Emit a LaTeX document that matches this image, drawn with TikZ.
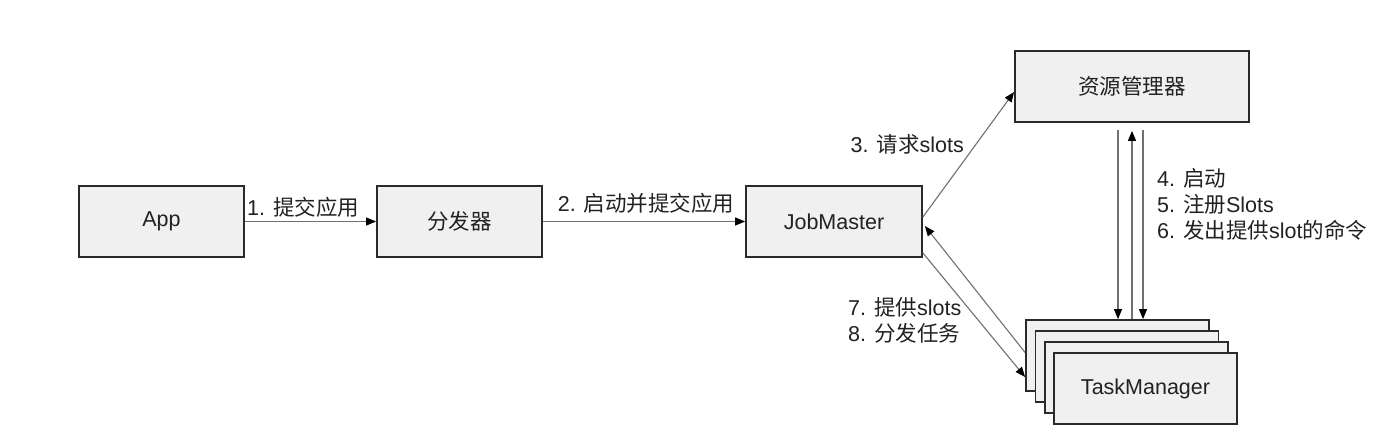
\documentclass[tikz,border=0pt]{standalone}
\usepackage{fontspec}
\setmainfont{Liberation Sans}
\newfontfamily\cjk{Noto Sans CJK SC}
\usetikzlibrary{arrows.meta,calc}
\definecolor{boxfill}{HTML}{F0F0F0}
\definecolor{boxline}{HTML}{2A2A2A}
\definecolor{lineg}{HTML}{707070}
\definecolor{txt}{HTML}{222222}
\begin{document}
\begin{tikzpicture}[x=1pt,y=-1pt,
  box/.style={draw=boxline, fill=boxfill, line width=1.8pt, minimum height=71pt, inner sep=0pt, text=txt, font=\fontsize{21.5}{26}\selectfont},
  arr/.style={draw=lineg, line width=1.1pt, -{Triangle[length=10pt,width=8pt,color=black]}},
  lbl/.style={font=\fontsize{21.5}{26}\selectfont, inner sep=0pt, align=left, text=txt}]
\useasboundingbox[fill=white] (0,0) rectangle (1392,444);

\node[box, minimum width=165pt] (app) at (161.5,221.5) {App};
\node[box, minimum width=165pt] (disp) at (459.5,221.5) {\cjk 分发器};
\node[box, minimum width=176pt] (jm) at (834,221.5) {JobMaster};
\node[box, minimum width=234pt] (rm) at (1132,86.5) {\cjk 资源管理器};
\node[box, minimum width=183pt] (tm1) at (1117.5,355.5) {};
\node[box, minimum width=183pt] (tm2) at (1127,366.5) {};
\node[box, minimum width=183pt] (tm3) at (1136.5,377.5) {};
\node[box, minimum width=183pt] (tm4) at (1145.5,388.5) {TaskManager};

\draw[arr] (app) -- (disp);
\draw[arr] (disp) -- (jm);
\draw[arr] ($(jm.east)+(0,-4.5)$) -- ($(rm.west)+(0,5.5)$);
\draw[arr] ($(tm1.west)+(0,-3)$) -- ($(jm.east)+(2,4.5)$);
\draw[arr] ($(jm.east)+(0,31.5)$) -- ($(tm1.west)+(0,21.5)$);

\coordinate (da) at ($(rm.south)+(-14,7)$);
\coordinate (db) at ($(rm.south)+(11,7)$);
\coordinate (ua) at ($(rm.south)+(0,8)$);
\draw[arr] (da) -- (da |- tm1.north);
\draw[arr] (ua |- tm1.north) -- (ua);
\draw[arr] (db) -- (db |- tm1.north);

\node[lbl, anchor=west] (l1) at (247,207) {1. {\cjk 提交应用}};
\node[lbl] (l2) at (646,203) {2. {\cjk 启动并提交应用}};
\node[lbl, anchor=east] (l3) at (964,144) {3. {\cjk 请求}slots};
\node[lbl, anchor=west] (l45) at (1157,204) {4. {\cjk 启动}\\5. {\cjk 注册}Slots\\6. {\cjk 发出提供}slot{\cjk 的命令}};
\node[lbl, anchor=west] (l78) at (848,320) {7. {\cjk 提供}slots\\8. {\cjk 分发任务}};
\end{tikzpicture}
\end{document}
